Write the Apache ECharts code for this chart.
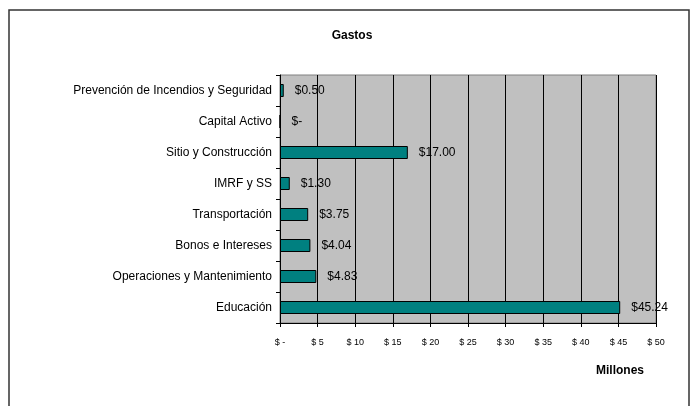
<!DOCTYPE html>
<html>
<head>
<meta charset="utf-8">
<script src="https://cdn.jsdelivr.net/npm/echarts@6/dist/echarts.min.js"></script>
<style>
  html, body { margin: 0; padding: 0; background: #fff; }
  #chart { width: 690px; height: 406px; }
</style>
</head>
<body>
<div id="chart"></div>
<script>
// categorias de abajo hacia arriba (eje category en y empieza abajo)
const categorias = [
  'Educación',
  'Operaciones y Mantenimiento',
  'Bonos e Intereses',
  'Transportación',
  'IMRF y SS',
  'Sitio y Construcción',
  'Capital Activo',
  'Prevención de Incendios y Seguridad'
];
const gastos = [45.24, 4.83, 4.04, 3.75, 1.30, 17.00, 0, 0.50];
const ticksX = [0, 5, 10, 15, 20, 25, 30, 35, 40, 45, 50];

const chart = echarts.init(document.getElementById('chart'));

const fuente = 'Arial, "Liberation Sans", sans-serif';

const option = {
  animation: false,
  backgroundColor: '#fff',
  textStyle: { fontFamily: fuente },
  title: [
    {
      text: 'Gastos',
      left: 347, top: 25,
      textAlign: 'center',
      textStyle: { fontSize: 12, fontWeight: 'bold', color: '#000', fontFamily: fuente }
    },
    {
      text: 'Millones',
      left: 615, top: 360,
      textAlign: 'center',
      textStyle: { fontSize: 12, fontWeight: 'bold', color: '#000', fontFamily: fuente }
    }
  ],
  graphic: [{
    type: 'rect',
    shape: { x: 9, y: 10, width: 680, height: 420 },
    style: { fill: 'none', stroke: '#333', lineWidth: 1.5 },
    silent: true
  }],
  grid: {
    left: 280, right: 34, top: 75, bottom: 83,
    show: true,
    backgroundColor: '#c0c0c0',
    borderColor: '#808080',
    borderWidth: 1
  },
  xAxis: {
    type: 'value',
    min: ticksX[0], max: ticksX[ticksX.length - 1], interval: 5,
    axisLine: { show: true, lineStyle: { color: '#000', width: 1 } },
    axisTick: { show: true, length: 4, lineStyle: { color: '#000' } },
    splitLine: { show: true, lineStyle: { color: '#000', width: 1 } },
    axisLabel: {
      fontSize: 9, color: '#000', margin: 15, fontFamily: fuente,
      formatter: v => (v === 0 ? '$ -' : '$ ' + v)
    }
  },
  yAxis: {
    type: 'category',
    data: categorias,
    axisLine: { show: true, lineStyle: { color: '#000', width: 1 } },
    axisTick: { show: true, length: 4, lineStyle: { color: '#000' } },
    axisLabel: { fontSize: 12, color: '#000', margin: 8, fontFamily: fuente }
  },
  series: [{
    type: 'bar',
    data: gastos,
    barWidth: 13,
    itemStyle: { color: '#008080', borderColor: '#000', borderWidth: 1 },
    label: {
      show: true,
      position: 'right',
      distance: 11,
      fontSize: 12,
      color: '#000',
      fontFamily: fuente,
      formatter: p => (p.value === 0 ? '$-' : '$' + p.value.toFixed(2))
    }
  }]
};

chart.setOption(option);
</script>
</body>
</html>
